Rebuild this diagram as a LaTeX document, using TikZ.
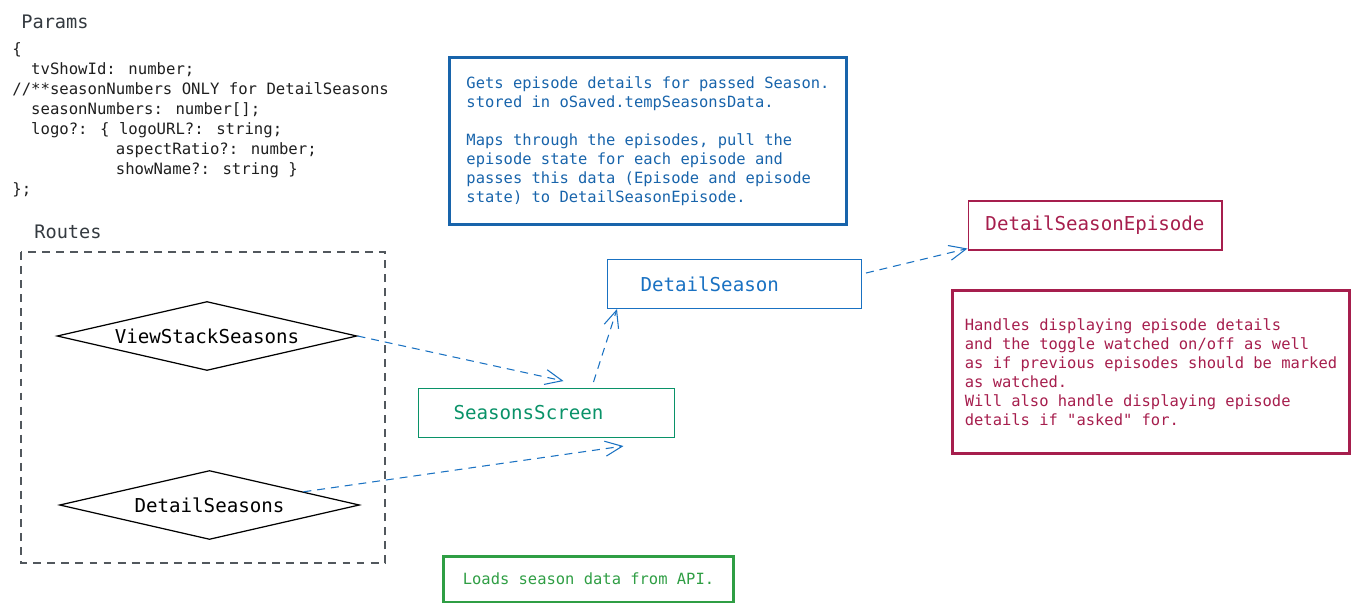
\documentclass[tikz,border=0pt]{standalone}
\usepackage{fontspec}
\newfontfamily\codefont{DejaVu Sans Mono}
\usetikzlibrary{shapes.geometric,arrows.meta}
\definecolor{flowblue}{HTML}{1971C2}
\definecolor{noteblue}{HTML}{1864AB}
\definecolor{screengreen}{HTML}{099268}
\definecolor{notegreen}{HTML}{2F9E44}
\definecolor{episodered}{HTML}{A61E4D}
\definecolor{titlegray}{HTML}{343A40}
\begin{document}
\begin{tikzpicture}[x=0.02cm,y=-0.02cm,
  title/.style={anchor=west, inner sep=0, text=titlegray, font=\codefont\fontsize{10.6}{12}\selectfont},
  code/.style={anchor=north west, inner sep=0, align=left, text=black!88, font=\codefont\fontsize{8.9}{11.4}\selectfont},
  comp/.style={draw, line width=0.6pt, minimum height=0.98cm, align=left, font=\codefont\fontsize{10.9}{13}\selectfont},
  route/.style={diamond, draw=black, line width=0.7pt, aspect=4.35, minimum width=6cm, minimum height=1.38cm, inner sep=0, font=\codefont\fontsize{10.9}{13}\selectfont},
  note/.style={line width=1.7pt, align=left, inner sep=0, font=\codefont\fontsize{8.8}{10.8}\selectfont},
  routebox/.style={draw=titlegray!85, line width=0.6pt, dash pattern=on 4.5pt off 3.5pt},
  flow/.style={flowblue, line width=0.6pt, dash pattern=on 4.5pt off 3.4pt, -{Straight Barb[length=3.4mm,width=3mm]}}
]
  \useasboundingbox (0,0) rectangle (1359,612);

  % Params
  \node[title] (params) at (21,22) {Params};
  \node[code] (paramcode) at (12,42.5) {\{\\
~~tvShowId: number;\\
//**seasonNumbers ONLY for DetailSeasons\\
~~seasonNumbers: number[];\\
~~logo?: \{ logoURL?: string;\\
~~~~~~~~~~~aspectRatio?: number;\\
~~~~~~~~~~~showName?: string \}\\
\};};

  % Routes
  \node[title] (routes) at (34,232) {Routes};
  \draw[routebox] (21,252) rectangle (385,563);
  \node[route] (vss) at (207,336) {ViewStackSeasons};
  \node[route] (ds) at (209.5,505) {DetailSeasons};

  % Components
  \node[comp, draw=screengreen, text=screengreen, anchor=north west, inner xsep=0.7cm, text width=3.72cm] (screen) at (418,388) {SeasonsScreen};
  \node[comp, draw=flowblue, text=flowblue, anchor=north west, inner xsep=0.66cm, text width=3.76cm] (season) at (607,259) {DetailSeason};
  \node[comp, draw=episodered, text=episodered, minimum width=5.08cm] (episode) at (1095,225.5) {DetailSeasonEpisode};

  % Notes
  \node[note, draw=noteblue, text=noteblue, minimum width=7.96cm, minimum height=3.36cm] (seasonnote) at (648,141) {Gets episode details for passed Season.\\
stored in oSaved.tempSeasonsData.\\[10.8pt]
Maps through the episodes, pull the\\
episode state for each episode and\\
passes this data (Episode and episode\\
state) to DetailSeasonEpisode.};
  \node[note, draw=episodered, text=episodered, minimum width=7.96cm, minimum height=3.28cm] (episodenote) at (1151,372) {Handles displaying episode details\\
and the toggle watched on/off as well\\
as if previous episodes should be marked\\
as watched.\\
Will also handle displaying episode\\
details if "asked" for.};
  \node[note, draw=notegreen, text=notegreen, minimum width=5.82cm, minimum height=0.92cm] (screennote) at (588.5,579) {Loads season data from API.};

  % Flow
  \draw[flow] (vss.east) -- ([xshift=0.34cm,yshift=0.14cm]screen.north);
  \draw[flow] (ds.8) -- ([xshift=1.54cm,yshift=-0.16cm]screen.south);
  \draw[flow] ([xshift=0.94cm,yshift=0.12cm]screen.north) -- ([xshift=0.2cm]season.south west);
  \draw[flow] ([xshift=0.08cm,yshift=0.22cm]season.east) -- ([yshift=0.04cm]episode.south west);
\end{tikzpicture}
\end{document}
